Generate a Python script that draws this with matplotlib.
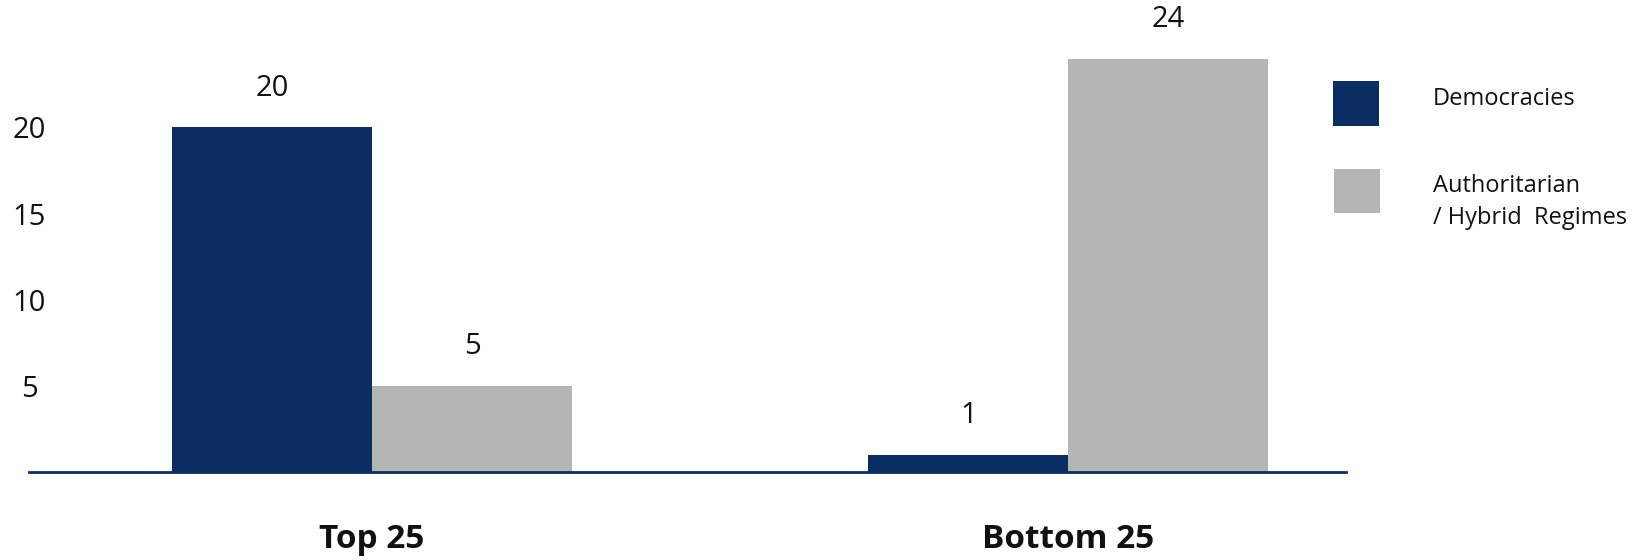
import numpy as np
import matplotlib
matplotlib.use("Agg")
import matplotlib.pyplot as plt
from matplotlib.patches import Rectangle

plt.rcParams["font.family"] = ["Open Sans", "DejaVu Sans"]

# Data
categories = ["Top 25", "Bottom 25"]
democracies = [20, 1]
authoritarian = [5, 24]
series_labels = ["Democracies", "Authoritarian\n/ Hybrid  Regimes"]
ytick_values = [5, 10, 15, 20]

NAVY = "#0C2D62"
GREY = "#B5B5B5"
INK = "#111111"

W, H = 1645, 560
fig = plt.figure(figsize=(W / 100, H / 100), dpi=100)
ax = fig.add_axes([29 / W, 88 / H, (1346 - 29) / W, 472 / H])

x = np.arange(len(categories))
width = 0.287

bars_d = ax.bar(x - width / 2, democracies, width, color=NAVY, label=series_labels[0])
bars_a = ax.bar(x + width / 2, authoritarian, width, color=GREY, label=series_labels[1])

for bars, vals in ((bars_d, democracies), (bars_a, authoritarian)):
    for b, v in zip(bars, vals):
        ax.annotate(f"{v}", (b.get_x() + b.get_width() / 2, v),
                    xytext=(0, 28), textcoords="offset points",
                    ha="center", va="center", fontsize=21, color=INK)

ax.set_xlim(-0.493, 1.399)
ax.set_ylim(0, 27.4)

# Spines: only a navy baseline
for side in ("top", "right", "left"):
    ax.spines[side].set_visible(False)
ax.spines["bottom"].set_color(NAVY)
ax.spines["bottom"].set_linewidth(2)

ax.set_xticks(x)
ax.set_xticklabels(categories, fontsize=24, fontweight="bold", color=INK)
ax.tick_params(axis="x", length=0, pad=37)

ax.set_yticks(ytick_values)
ax.set_yticklabels([str(v) for v in ytick_values], fontsize=21, color=INK)
ax.tick_params(axis="y", length=0, pad=0)
for lbl in ax.get_yticklabels():
    lbl.set_horizontalalignment("center")

# Legend: square swatches with labels set to their right
def fx(px):
    return px / W

def fy(py):
    return 1 - py / H

swatches = [(NAVY, 1333, 81, 126, 99), (GREY, 1334, 169, 213, 202)]
for (color, x0, y0, y1, ty), label in zip(swatches, series_labels):
    fig.add_artist(Rectangle((fx(x0), fy(y1)), 46 / W, (y1 - y0) / H,
                             transform=fig.transFigure, facecolor=color,
                             edgecolor="none"))
    fig.text(fx(1433), fy(ty), label, ha="left", va="center",
             fontsize=17, color=INK, linespacing=1.45)

fig.savefig("out.png", dpi=100)
